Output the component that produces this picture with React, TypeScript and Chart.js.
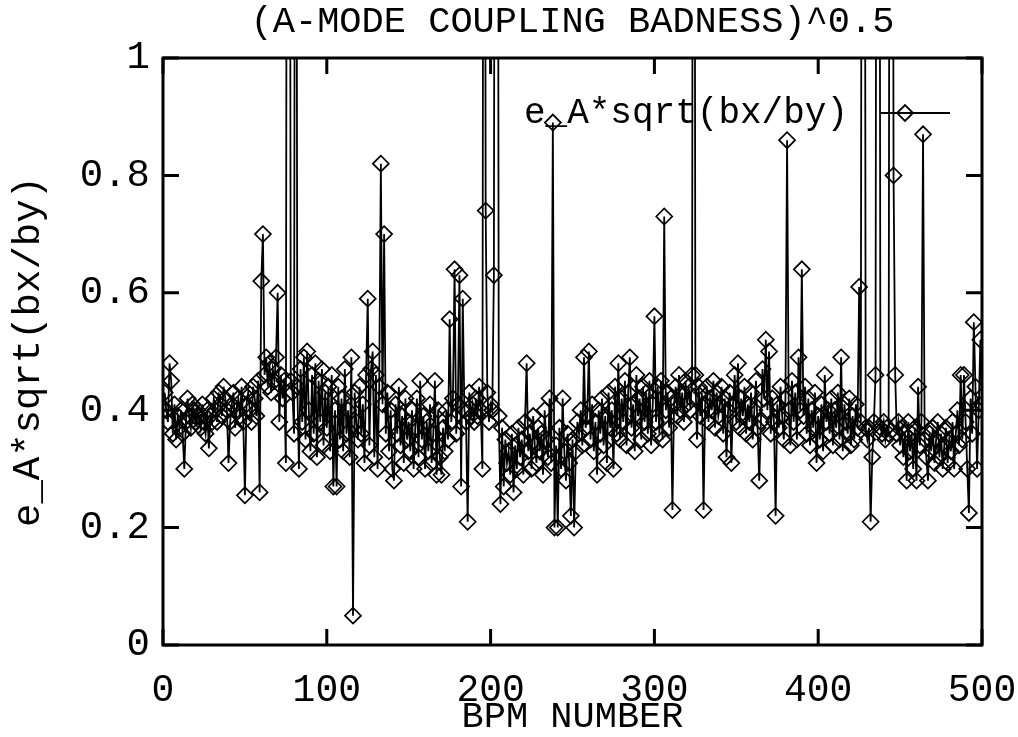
import { useEffect, useRef } from "react";
import { Chart, registerables } from "chart.js";

Chart.register(...registerables);

const FONT = '"Liberation Mono", "DejaVu Sans Mono", monospace';

const TITLE = "(A-MODE COUPLING BADNESS)^0.5";
const X_TITLE = "BPM NUMBER";
const Y_TITLE = "e_A*sqrt(bx/by)";
const SERIES_LABEL = "e_A*sqrt(bx/by)";

const xTicks = [0, 100, 200, 300, 400, 500];
const xTickLabels = ["0", "100", "200", "300", "400", "500"];
const yTicks = [0, 0.2, 0.4, 0.6, 0.8, 1];
const yTickLabels = ["0", "0.2", "0.4", "0.6", "0.8", "1"];

// values (points beyond 1 run off the top of the frame)
const bpm001to100 = [
  0.43, 0.40, 0.38, 0.48, 0.45, 0.36, 0.41, 0.35, 0.39, 0.37,
  0.40, 0.36, 0.30, 0.38, 0.42, 0.39, 0.37, 0.41, 0.40, 0.38,
  0.40, 0.39, 0.37, 0.41, 0.38, 0.36, 0.40, 0.335, 0.39, 0.38,
  0.42, 0.40, 0.38, 0.43, 0.41, 0.39, 0.44, 0.42, 0.40, 0.31,
  0.38, 0.41, 0.43, 0.37, 0.40, 0.42, 0.39, 0.44, 0.38, 0.255,
  0.41, 0.43, 0.40, 0.38, 0.44, 0.42, 0.39, 0.45, 0.26, 0.62,
  0.70, 0.46, 0.49, 0.44, 0.48, 0.43, 0.47, 0.45, 0.49, 0.60,
  0.38, 0.46, 0.42, 0.45, 0.31, 2.5, 2.5, 0.45, 0.43, 0.36,
  2.5, 0.44, 0.30, 0.47, 0.38, 0.49, 0.35, 0.50, 0.40, 0.33,
  0.46, 0.36, 0.48, 0.32, 0.45, 0.38, 0.47, 0.34, 0.43, 0.37,
];
const bpm101to200 = [
  0.44, 0.33, 0.46, 0.27, 0.40, 0.27, 0.44, 0.35, 0.42, 0.33,
  0.47, 0.36, 0.40, 0.32, 0.49, 0.05, 0.43, 0.38, 0.35, 0.44,
  0.36, 0.41, 0.31, 0.46, 0.59, 0.34, 0.47, 0.50, 0.32, 0.46,
  0.30, 0.44, 0.82, 0.41, 0.70, 0.36, 0.43, 0.33, 0.40, 0.30,
  0.28, 0.41, 0.36, 0.44, 0.34, 0.39, 0.31, 0.42, 0.35, 0.38,
  0.33, 0.40, 0.30, 0.37, 0.42, 0.32, 0.45, 0.35, 0.39, 0.30,
  0.38, 0.33, 0.41, 0.31, 0.36, 0.45, 0.29, 0.40, 0.32, 0.29,
  0.37, 0.33, 0.40, 0.35, 0.555, 0.38, 0.42, 0.64, 0.36, 0.41,
  0.63, 0.27, 0.59, 0.40, 0.38, 0.21, 0.43, 0.39, 0.41, 0.38,
  0.42, 0.39, 0.44, 0.40, 0.30, 2.5, 0.74, 0.43, 0.38, 0.41,
];
const bpm201to300 = [
  0.40, 0.63, 2.5, 2.5, 0.39, 0.24, 0.37, 0.27, 0.35, 0.31,
  0.33, 0.29, 0.36, 0.26, 0.34, 0.30, 0.37, 0.32, 0.35, 0.29,
  0.38, 0.48, 0.33, 0.36, 0.30, 0.39, 0.34, 0.31, 0.37, 0.33,
  0.36, 0.29, 0.40, 0.35, 0.32, 0.42, 0.31, 0.89, 0.20, 0.34,
  0.20, 0.37, 0.30, 0.42, 0.33, 0.28, 0.36, 0.31, 0.22, 0.35,
  0.20, 0.33, 0.38, 0.36, 0.40, 0.34, 0.49, 0.37, 0.39, 0.50,
  0.35, 0.41, 0.33, 0.38, 0.29, 0.40, 0.36, 0.42, 0.34, 0.39,
  0.31, 0.43, 0.37, 0.40, 0.30, 0.44, 0.36, 0.48, 0.35, 0.42,
  0.38, 0.45, 0.34, 0.43, 0.49, 0.37, 0.41, 0.33, 0.46, 0.39,
  0.42, 0.35, 0.44, 0.38, 0.43, 0.36, 0.45, 0.34, 0.41, 0.56,
];
const bpm301to400 = [
  0.38, 0.44, 0.36, 0.45, 0.35, 0.73, 0.40, 0.43, 0.37, 0.42,
  0.23, 0.41, 0.44, 0.39, 0.46, 0.40, 0.43, 0.38, 0.45, 0.41,
  0.44, 0.40, 0.46, 3.0, 0.46, 0.35, 0.44, 0.39, 0.43, 0.23,
  0.41, 0.44, 0.38, 0.42, 0.40, 0.45, 0.37, 0.43, 0.39, 0.41,
  0.44, 0.36, 0.42, 0.32, 0.40, 0.43, 0.31, 0.41, 0.46, 0.38,
  0.48, 0.37, 0.42, 0.39, 0.44, 0.36, 0.41, 0.38, 0.43, 0.35,
  0.40, 0.45, 0.37, 0.28, 0.38, 0.47, 0.42, 0.52, 0.40, 0.50,
  0.36, 0.42, 0.38, 0.22, 0.41, 0.37, 0.44, 0.39, 0.35, 0.42,
  0.86, 0.40, 0.34, 0.45, 0.38, 0.43, 0.35, 0.49, 0.40, 0.64,
  0.39, 0.44, 0.36, 0.42, 0.34, 0.40, 0.37, 0.43, 0.31, 0.39,
];
const bpm401to500 = [
  0.35, 0.41, 0.33, 0.46, 0.38, 0.40, 0.36, 0.42, 0.34, 0.40,
  0.37, 0.43, 0.35, 0.49, 0.33, 0.41, 0.38, 0.36, 0.42, 0.34,
  0.39, 0.35, 0.41, 0.37, 0.61, 0.38, 2.5, 2.5, 0.37, 0.35,
  0.37, 0.21, 0.32, 0.38, 0.46, 2.5, 2.5, 0.37, 0.36, 0.38,
  0.35, 0.37, 0.36, 2.5, 2.5, 0.80, 0.46, 0.36, 0.38, 0.34,
  0.37, 0.32, 0.36, 0.28, 0.38, 0.33, 0.36, 0.30, 0.37, 0.28,
  0.44, 0.34, 0.38, 0.87, 0.35, 0.32, 0.28, 0.36, 0.33, 0.37,
  0.31, 0.35, 0.38, 0.32, 0.36, 0.30, 0.34, 0.37, 0.31, 0.35,
  0.33, 0.38, 0.30, 0.36, 0.40, 0.34, 0.46, 0.35, 0.46, 0.38,
  0.30, 0.225, 0.42, 0.36, 0.55, 0.44, 0.30, 0.40, 0.52, 0.41,
];

const badness = [...bpm001to100, ...bpm101to200, ...bpm201to300, ...bpm301to400, ...bpm401to500];
const bpmNumbers = badness.map((_, i) => i + 1);

const bgPlugin = {
  id: "whiteBg",
  beforeDraw(chart: any) {
    const { ctx, width, height } = chart;
    ctx.save();
    ctx.fillStyle = "#fff";
    ctx.fillRect(0, 0, width, height);
    ctx.restore();
  },
};

const framePlugin = {
  id: "gnuFrame",
  afterDatasetsDraw(chart: any) {
    const { ctx, chartArea, scales } = chart;
    const { left, right, top, bottom } = chartArea;
    const tl = 16;
    ctx.save();
    ctx.strokeStyle = "#000";
    ctx.lineWidth = 3;
    ctx.strokeRect(left, top, right - left, bottom - top);
    ctx.beginPath();
    scales.x.ticks.forEach((t: any) => {
      const px = scales.x.getPixelForValue(t.value);
      ctx.moveTo(px, bottom);
      ctx.lineTo(px, bottom - tl);
      ctx.moveTo(px, top);
      ctx.lineTo(px, top + tl);
    });
    scales.y.ticks.forEach((t: any) => {
      const py = scales.y.getPixelForValue(t.value);
      ctx.moveTo(left, py);
      ctx.lineTo(left + tl, py);
      ctx.moveTo(right, py);
      ctx.lineTo(right - tl, py);
    });
    ctx.stroke();
    ctx.restore();
  },
};

const legendPlugin = {
  id: "gnuLegend",
  afterDraw(chart: any) {
    const { ctx, chartArea } = chart;
    const label = chart.data.datasets[0].label;
    const yy = chartArea.top + 55;
    ctx.save();
    ctx.fillStyle = "#000";
    ctx.font = `36px ${FONT}`;
    ctx.textAlign = "right";
    ctx.textBaseline = "middle";
    ctx.fillText(label, chartArea.right - 134, yy);
    ctx.strokeStyle = "#000";
    ctx.lineWidth = 1.8;
    ctx.beginPath();
    ctx.moveTo(chartArea.right - 102, yy);
    ctx.lineTo(chartArea.right - 32, yy);
    ctx.stroke();
    const cx = chartArea.right - 77;
    const r = 8;
    ctx.lineWidth = 1.8;
    ctx.beginPath();
    ctx.moveTo(cx - r, yy);
    ctx.lineTo(cx, yy - r);
    ctx.lineTo(cx + r, yy);
    ctx.lineTo(cx, yy + r);
    ctx.closePath();
    ctx.stroke();
    ctx.restore();
  },
};

export default function App() {
  const canvasRef = useRef<HTMLCanvasElement | null>(null);

  useEffect(() => {
    if (!canvasRef.current) return;
    const chart = new Chart(canvasRef.current, {
      type: "line",
      data: {
        datasets: [
          {
            label: SERIES_LABEL,
            data: bpmNumbers.map((b, i) => ({ x: b, y: badness[i] })),
            borderColor: "#000",
            borderWidth: 1.8,
            pointStyle: "rectRot",
            pointRadius: 8,
            pointBorderWidth: 1.7,
            pointBorderColor: "#000",
            pointBackgroundColor: "rgba(0,0,0,0)",
            fill: false,
            tension: 0,
          },
        ],
      },
      options: {
        animation: false,
        responsive: true,
        maintainAspectRatio: false,
        layout: { padding: { left: 0, right: 36, top: 0, bottom: 0 } },
        plugins: {
          legend: { display: false },
          tooltip: { enabled: false },
          title: {
            display: true,
            text: TITLE,
            fullSize: false,
            color: "#000",
            font: { family: FONT, size: 37, weight: "normal", lineHeight: 1 },
            padding: { top: 4, bottom: 17 },
          },
        },
        scales: {
          x: {
            type: "linear",
            min: 0,
            max: 500,
            afterBuildTicks: (s: any) => {
              s.ticks = xTicks.map((v) => ({ value: v }));
            },
            afterFit: (s: any) => {
              s.height = 92;
              s.paddingLeft = 0;
              s.paddingRight = 0;
            },
            grid: { display: false, drawTicks: false },
            border: { display: false },
            ticks: {
              color: "#000",
              font: { family: FONT, size: 38 },
              padding: 23,
              maxRotation: 0,
              autoSkip: false,
              callback: (_v: any, i: number) => xTickLabels[i],
            },
            title: {
              display: true,
              text: X_TITLE,
              color: "#000",
              font: { family: FONT, size: 37, lineHeight: 1 },
              padding: { top: 0, bottom: 1 },
            },
          },
          y: {
            type: "linear",
            min: 0,
            max: 1,
            afterBuildTicks: (s: any) => {
              s.ticks = yTicks.map((v) => ({ value: v }));
            },
            afterFit: (s: any) => {
              s.width = 163;
              s.paddingTop = 0;
              s.paddingBottom = 0;
            },
            grid: { display: false, drawTicks: false },
            border: { display: false },
            ticks: {
              color: "#000",
              font: { family: FONT, size: 39 },
              padding: 13,
              callback: (_v: any, i: number) => yTickLabels[i],
            },
            title: {
              display: true,
              text: Y_TITLE,
              color: "#000",
              font: { family: FONT, size: 39, lineHeight: 1 },
              padding: { top: 9, bottom: 0 },
            },
          },
        },
      },
      plugins: [bgPlugin, framePlugin, legendPlugin],
    } as any);
    return () => chart.destroy();
  }, []);

  return (
    <div style={{ position: "fixed", left: 0, top: 0, width: 1018, height: 737, background: "#fff" }}>
      <canvas ref={canvasRef} />
    </div>
  );
}
